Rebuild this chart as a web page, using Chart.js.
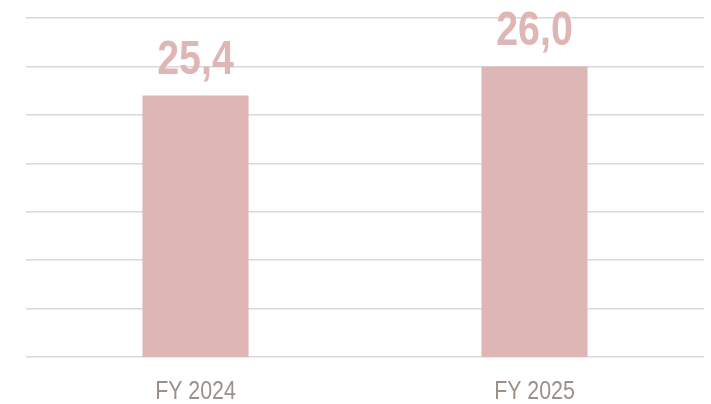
<!DOCTYPE html>
<html>
<head>
<meta charset="utf-8">
<script src="https://cdn.jsdelivr.net/npm/chart.js@4/dist/chart.umd.min.js"></script>
<style>
    html, body { margin: 0; padding: 0; background: #fff; }
    #wrap { width: 711px; height: 404px; }
</style>
</head>
<body>
<div id="wrap"><canvas id="fy-chart" width="711" height="404"></canvas></div>
<script>
var categories = ['FY 2024', 'FY 2025'];
var values = [25.4, 26.0];
var axisMin = 20;
var axisMax = 27;
var axisStep = 1;

var barColor = '#DFB6B6';
var tickColor = '#9B918B';
var baseFont = '"Liberation Sans", Arial, sans-serif';
// no narrow font installed, so squeeze the text horizontally (Arial Narrow ~ 0.82)
var narrow = 0.82;

function drawNarrow(ctx, txt, x, y) {
    ctx.save();
    ctx.translate(x, y);
    ctx.scale(narrow, 1);
    ctx.fillText(txt, 0, 0);
    ctx.restore();
}

// value above each bar + category names under the axis
var textLayer = {
    id: 'textLayer',
    afterDatasetsDraw: function(chart) {
        var ctx = chart.ctx;
        var meta = chart.getDatasetMeta(0);
        var xScale = chart.scales.x;
        ctx.save();
        ctx.textAlign = 'center';
        ctx.textBaseline = 'alphabetic';

        ctx.fillStyle = barColor;
        ctx.font = 'bold 48px ' + baseFont;
        meta.data.forEach(function(bar, i) {
            var txt = values[i].toFixed(1).replace('.', ',');
            drawNarrow(ctx, txt, bar.x, bar.y - 21);
        });

        ctx.fillStyle = tickColor;
        ctx.font = '26px ' + baseFont;
        categories.forEach(function(cat, i) {
            drawNarrow(ctx, cat, xScale.getPixelForTick(i), chart.chartArea.bottom + 42);
        });
        ctx.restore();
    }
};

var ctx = document.getElementById('fy-chart');
var fyChart = new Chart(ctx, {
    type: 'bar',
    data: {
        labels: categories,
        datasets: [
            {
                label: 'Value',
                data: values,
                backgroundColor: barColor,
                borderWidth: 0,
                barPercentage: 0.313,
                categoryPercentage: 1.0
            }
        ]
    },
    options: {
        responsive: false,
        animation: false,
        layout: {
            padding: { left: 26, right: 7, top: 18, bottom: 47 }
        },
        plugins: {
            legend: { display: false },
            tooltip: { enabled: false }
        },
        scales: {
            x: {
                grid: { display: false, drawTicks: false },
                border: { display: false },
                ticks: { display: false }
            },
            y: {
                min: axisMin,
                max: axisMax,
                grid: { color: '#D9D9D9', lineWidth: 1.5, drawTicks: false },
                border: { display: false },
                ticks: { display: false, stepSize: axisStep }
            }
        }
    },
    plugins: [textLayer]
});
</script>
</body>
</html>
